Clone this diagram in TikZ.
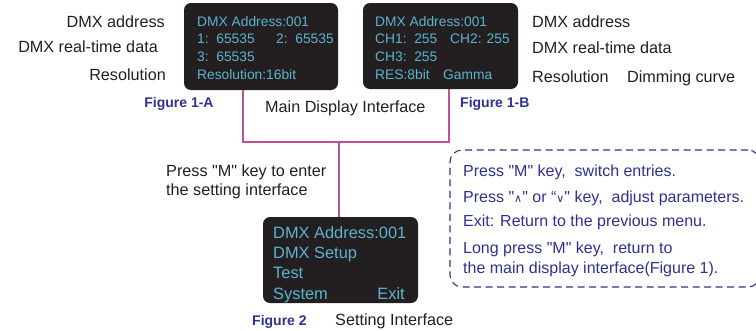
\documentclass[tikz,border=0pt]{standalone}
\usepackage{fontspec}
\newfontfamily\af{Liberation Sans}
\newfontfamily\djv{DejaVu Sans}
\definecolor{scr}{HTML}{231F20}
\definecolor{cyn}{HTML}{5AB4CF}
\definecolor{pnk}{HTML}{C14F97}
\definecolor{navy}{HTML}{2E3192}
\definecolor{ink}{HTML}{231F20}
\begin{document}
\begin{tikzpicture}[x=1pt,y=-1pt,
  screen/.style={fill=scr,rounded corners=7pt,inner sep=0pt,draw=none},
  stxt/.style={inner sep=0pt,anchor=base west,text=cyn,font=\af\fontsize{13.8}{15}\selectfont},
  btxt/.style={inner sep=0pt,anchor=base west,text=cyn,font=\af\fontsize{16.4}{18}\selectfont},
  lab/.style={inner sep=0pt,text=ink,font=\af\fontsize{16.2}{18}\selectfont},
  fig/.style={inner sep=0pt,text=navy,font=\af\bfseries\fontsize{14}{16}\selectfont},
  note/.style={inner sep=0pt,anchor=base west,text=navy,font=\af\fontsize{16}{18}\selectfont},
  link/.style={draw=pnk,line width=1.3pt}]
\useasboundingbox (0,0) rectangle (756,330);
% screens
\node[screen,minimum width=154pt,minimum height=87pt] (boxA) at (261,46.5) {};
\node[screen,minimum width=155pt,minimum height=86pt] (boxB) at (440.5,46) {};
\node[screen,minimum width=155pt,minimum height=86pt] (box2) at (340.5,260) {};
% box A text
\node[stxt] (a1) at (197,26) {DMX Address:001};
\node[stxt] (a2) at (197,43) {1:\ \ 65535};
\node[stxt] (a3) at (276,43) {2:\ \ 65535};
\node[stxt] (a4) at (197,61) {3:\ \ 65535};
\node[stxt] (a5) at (197,79) {Resolution:16bit};
% box B text
\node[stxt] (b1) at (375,26) {DMX Address:001};
\node[stxt] (b2) at (375,43) {CH1:\ \ 255};
\node[stxt] (b3) at (450,43) {CH2: 255};
\node[stxt] (b4) at (375,61) {CH3:\ \ 255};
\node[stxt] (b5) at (375,79) {RES:8bit};
\node[stxt] (b6) at (443,79) {Gamma};
% box 2 text
\node[btxt] (c1) at (273,238) {DMX Address:001};
\node[btxt] (c2) at (273,258) {DMX Setup};
\node[btxt] (c3) at (273,278) {Test};
\node[btxt] (c4) at (273,299) {System};
\node[btxt,anchor=base east] (c5) at (405,299) {Exit};
% left labels
\node[lab,anchor=base east] (l1) at (165,27) {DMX address};
\node[lab,anchor=base east] (l2) at (158,52) {DMX real-time data};
\node[lab,anchor=base east] (l3) at (166,80) {Resolution};
% right labels
\node[lab,anchor=base west] (r1) at (532,27) {DMX address};
\node[lab,anchor=base west] (r2) at (532,53) {DMX real-time data};
\node[lab,anchor=base west] (r3) at (532,82) {Resolution};
\node[lab,anchor=base west] (r4) at (627,82) {Dimming curve};
% figure labels
\node[fig,anchor=base] (f1a) at (179,107) {Figure 1-A};
\node[fig,anchor=base west] (f1b) at (460,107) {Figure 1-B};
\node[lab,anchor=base west] (mdi) at (265,112) {Main Display Interface};
\node[lab,anchor=base west] (p1) at (166,176) {Press "M" key to enter};
\node[lab,anchor=base west] (p2) at (166,195) {the setting interface};
\node[fig,anchor=base west] (f2) at (252,325) {Figure 2};
\node[lab,anchor=base west] (si) at (335,325) {Setting Interface};
% connectors
\coordinate (j) at (339,142);
\draw[link] ([xshift=-18pt]boxA.south) |- (j) -| ([xshift=8.5pt]boxB.south);
\draw[link] (j) -- (box2.north -| j);
% notes box
\node[draw=navy,dash pattern=on 7pt off 4.5pt,line width=1.1pt,rounded corners=12pt,minimum width=310pt,minimum height=137pt,inner sep=0pt] (notes) at (605,218.5) {};
\node[note] (n1) at (463,176) {Press "M" key,\ \ switch entries.};
\node[note] (n2) at (463,202) {Press "{\djv\fontsize{11}{12}\selectfont ∧}" or “{\djv\fontsize{11}{12}\selectfont ∨}" key,\ \ adjust parameters.};
\node[note] (n3) at (463,226) {Exit: Return to the previous menu.};
\node[note] (n4) at (463,253) {Long press "M" key,\ \ return to};
\node[note] (n5) at (463,273) {the main display interface(Figure 1).};
\end{tikzpicture}
\end{document}
